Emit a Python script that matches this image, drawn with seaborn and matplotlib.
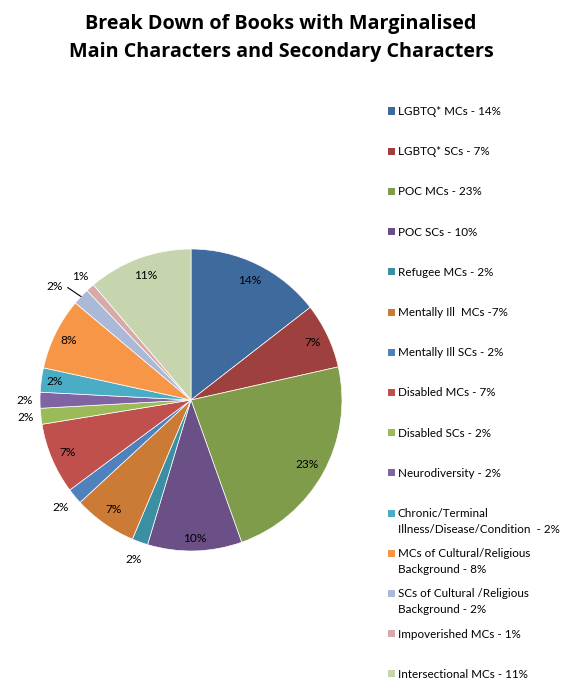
import numpy as np
import seaborn as sns
import matplotlib.pyplot as plt

# categories, slice shares and printed percentages
categories = ['LGBTQ* MCs - 14%', 'LGBTQ* SCs - 7%', 'POC MCs - 23%', 'POC SCs - 10%',
              'Refugee MCs - 2%', 'Mentally Ill  MCs -7%', 'Mentally Ill SCs - 2%',
              'Disabled MCs - 7%', 'Disabled SCs - 2%', 'Neurodiversity - 2%',
              'Chronic/Terminal\nIllness/Disease/Condition  - 2%',
              'MCs of Cultural/Religious\nBackground - 8%',
              'SCs of Cultural /Religious\nBackground - 2%',
              'Impoverished MCs - 1%', 'Intersectional MCs - 11%']
shares = [14.5, 7.0, 23.1, 10.1, 1.7, 6.8, 1.7, 7.6, 1.7, 1.7, 2.6, 7.7, 1.8, 0.9, 11.2]
pct_labels = ['14%', '7%', '23%', '10%', '2%', '7%', '2%', '7%', '2%', '2%',
              '2%', '8%', '2%', '1%', '11%']
title_lines = ['Break Down of Books with Marginalised',
               'Main Characters and Secondary Characters']

colours = ['#3F6A9D', '#9E413E', '#7F9C4B', '#6A5087', '#3B8FA3', '#CC7B36',
           '#4F81BD', '#C0504D', '#9BBB59', '#8064A2', '#4BACC6', '#F79646',
           '#A9B9D7', '#D7A9A9', '#C6D5AD']

# label distance from centre (in radii) per slice
label_dist = [0.88, 0.89, 0.88, 0.92, 1.12, 0.89, 1.12, 0.89, 1.10, 1.10,
              0.91, 0.90, 1.18, 1.10, 0.88]

sns.set_theme(style='white')
plt.rcParams['font.family'] = ['Lato', 'DejaVu Sans']
plt.rcParams['text.color'] = 'black'

W, H = 577, 696
fig = plt.figure(figsize=(W / 100, H / 100), dpi=100)

# pie axes: centre (191,400) px, radius 151 px, limits +-1.25
r_px = 151
size = r_px * 2.5
ax = fig.add_axes([(191 - size / 2) / W, (H - 400 - size / 2) / H, size / W, size / H])
wedges, _ = ax.pie(shares, colors=colours, startangle=90, counterclock=False,
                   wedgeprops=dict(edgecolor='white', linewidth=0.5))
ax.set_xlim(-1.25, 1.25)
ax.set_ylim(-1.25, 1.25)
ax.set_aspect('equal')

for i, w in enumerate(wedges):
    ang = np.deg2rad((w.theta1 + w.theta2) / 2)
    d = label_dist[i]
    x, y = d * np.cos(ang), d * np.sin(ang)
    if i == 12:
        # leader line for the crowded slice: label sits up-left of the slice edge
        ax.annotate(pct_labels[i], xy=(np.cos(ang), np.sin(ang)), xytext=(-26, 10),
                    textcoords='offset pixels', ha='center', va='center',
                    fontsize=8.6, color='black',
                    arrowprops=dict(arrowstyle='-', color='black', lw=0.8,
                                    shrinkA=1, shrinkB=0,
                                    connectionstyle='angle,angleA=0,angleB=-34,rad=0'))
    else:
        ax.text(x, y, pct_labels[i], ha='center', va='center', fontsize=8.6, color='black')

# title, two lines (baselines at 29 and 57 px)
for k, line in enumerate(title_lines):
    fig.text(281 / W, 1 - (29 + 28 * k) / H, line, ha='center', va='baseline',
             fontsize=14.2, fontweight='bold', color='black',
             family=['Open Sans', 'DejaVu Sans'])

# legend, one row every ~40 px, extra lines 16 px apart
for i, lab in enumerate(categories):
    yc = 111 + 40.2 * i
    fig.patches.append(plt.Rectangle((388 / W, 1 - (yc + 3.5) / H), 7 / W, 7 / H,
                                     transform=fig.transFigure, facecolor=colours[i],
                                     edgecolor='none'))
    for k, part in enumerate(lab.split('\n')):
        fig.text(398 / W, 1 - (yc + 4 + 16 * k) / H, part, ha='left', va='baseline',
                 fontsize=8.4, color='black')

fig.savefig('out.png', dpi=100, facecolor='white')
